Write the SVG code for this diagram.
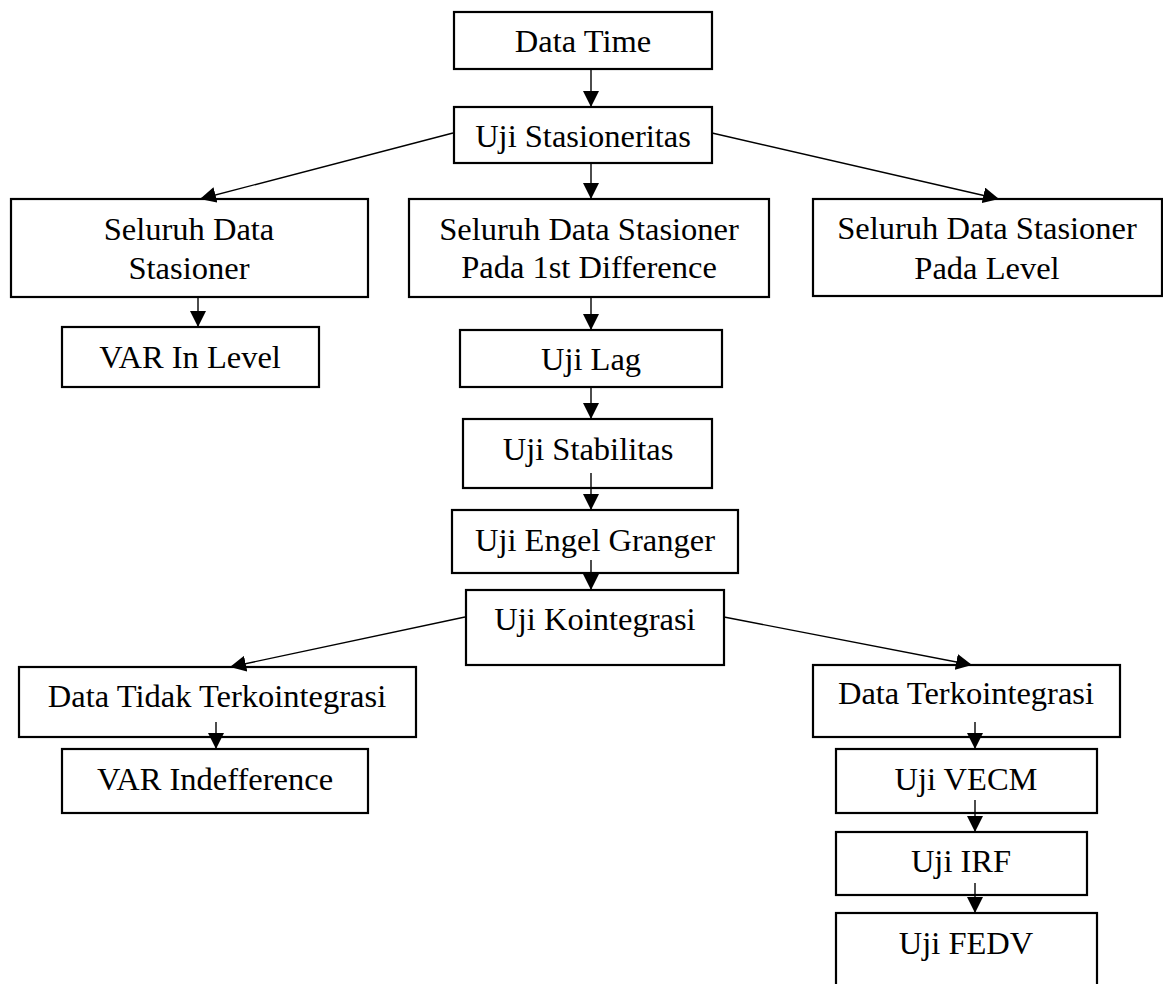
<svg xmlns="http://www.w3.org/2000/svg" width="1163" height="984" viewBox="0 0 1163 984">
<style>
.box{fill:#fff;stroke:#000;stroke-width:2.2}
.lbl{font-family:"Liberation Serif","Times New Roman",serif;font-size:32.5px;fill:#000;text-anchor:middle}
.con{stroke:#000;stroke-width:1.4;fill:none;marker-end:url(#ah)}
</style>
<defs>
<marker id="ah" markerUnits="userSpaceOnUse" markerWidth="16" markerHeight="16" refX="16" refY="8" orient="auto">
<path d="M0,0 L16,8 L0,16 z" fill="#000"/>
</marker>
</defs>
<rect width="1163" height="984" fill="#fff"/>
<g id="n1"><rect class="box" x="454" y="12" width="258" height="57"/><text class="lbl" x="583" y="52">Data Time</text></g>
<g id="n2"><rect class="box" x="454" y="107" width="258" height="56"/><text class="lbl" x="583" y="147">Uji Stasioneritas</text></g>
<g id="n3"><rect class="box" x="11" y="199" width="357" height="98"/><text class="lbl" x="189" y="240">Seluruh Data</text><text class="lbl" x="189" y="279">Stasioner</text></g>
<g id="n4"><rect class="box" x="409" y="199" width="360" height="98"/><text class="lbl" x="589" y="240">Seluruh Data Stasioner</text><text class="lbl" x="589" y="278">Pada 1st Difference</text></g>
<g id="n5"><rect class="box" x="813" y="199" width="349" height="97"/><text class="lbl" x="987" y="239">Seluruh Data Stasioner</text><text class="lbl" x="987" y="279">Pada Level</text></g>
<g id="n6"><rect class="box" x="62" y="327" width="257" height="60"/><text class="lbl" x="190" y="368">VAR In Level</text></g>
<g id="n7"><rect class="box" x="460" y="330" width="262" height="57"/><text class="lbl" x="591" y="370">Uji Lag</text></g>
<g id="n8"><rect class="box" x="463" y="419" width="249" height="69"/><text class="lbl" x="588" y="460">Uji Stabilitas</text></g>
<g id="n9"><rect class="box" x="452" y="510" width="286" height="63"/><text class="lbl" x="595" y="551">Uji Engel Granger</text></g>
<g id="n10"><rect class="box" x="466" y="590" width="258" height="75"/><text class="lbl" x="595" y="630">Uji Kointegrasi</text></g>
<g id="n11"><rect class="box" x="19" y="667" width="397" height="70"/><text class="lbl" x="217" y="707">Data Tidak Terkointegrasi</text></g>
<g id="n12"><rect class="box" x="62" y="749" width="306" height="64"/><text class="lbl" x="215" y="790">VAR Indefference</text></g>
<g id="n13"><rect class="box" x="813" y="665" width="307" height="72"/><text class="lbl" x="966" y="704">Data Terkointegrasi</text></g>
<g id="n14"><rect class="box" x="836" y="749" width="261" height="64"/><text class="lbl" x="966" y="790">Uji VECM</text></g>
<g id="n15"><rect class="box" x="836" y="832" width="251" height="63"/><text class="lbl" x="961" y="872">Uji IRF</text></g>
<g id="n16"><rect class="box" x="836" y="913" width="261" height="80"/><text class="lbl" x="966" y="954">Uji FEDV</text></g>
<g id="connectors">
<line class="con" x1="591" y1="69" x2="591" y2="107"/>
<line class="con" x1="453" y1="133" x2="200" y2="199"/>
<line class="con" x1="591" y1="163" x2="591" y2="199"/>
<line class="con" x1="712" y1="133" x2="999" y2="199"/>
<line class="con" x1="198" y1="297" x2="198" y2="327"/>
<line class="con" x1="591" y1="297" x2="591" y2="330"/>
<line class="con" x1="591" y1="387" x2="591" y2="419"/>
<line class="con" x1="591" y1="473" x2="591" y2="510"/>
<line class="con" x1="591" y1="560" x2="591" y2="590"/>
<line class="con" x1="465" y1="617" x2="230" y2="667"/>
<line class="con" x1="724" y1="617" x2="972" y2="665"/>
<line class="con" x1="216" y1="722" x2="216" y2="749"/>
<line class="con" x1="975" y1="722" x2="975" y2="749"/>
<line class="con" x1="975" y1="800" x2="975" y2="832"/>
<line class="con" x1="975" y1="883" x2="975" y2="913"/>
</g>
</svg>
